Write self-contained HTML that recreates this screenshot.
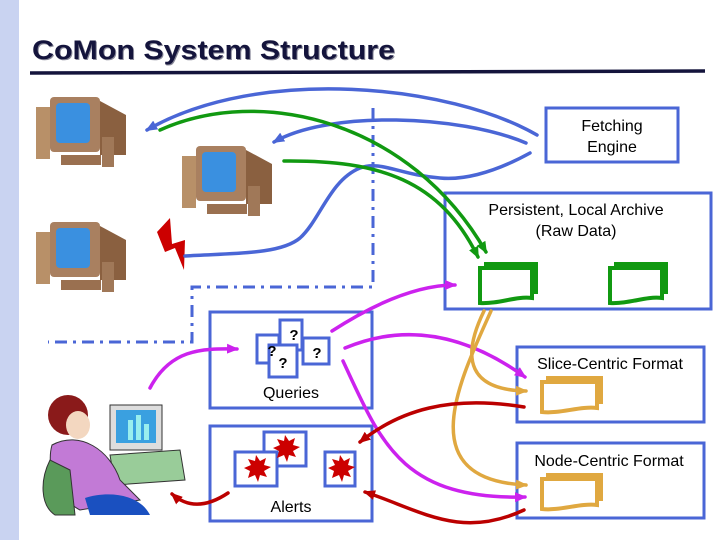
<!DOCTYPE html>
<html><head><meta charset="utf-8"><style>
body{margin:0;background:#fff}
svg{display:block}
text{font-family:"Liberation Sans",sans-serif}
</style></head><body>
<svg width="720" height="540" viewBox="0 0 720 540" xmlns="http://www.w3.org/2000/svg">
<defs>
<marker id="ab" markerWidth="12" markerHeight="10" refX="10" refY="5" orient="auto" markerUnits="userSpaceOnUse"><path d="M0,0L12,5L0,10z" fill="#4a66d6"/></marker>
<marker id="ag" markerWidth="12" markerHeight="10" refX="10" refY="5" orient="auto" markerUnits="userSpaceOnUse"><path d="M0,0L12,5L0,10z" fill="#119911"/></marker>
<marker id="am" markerWidth="12" markerHeight="10" refX="10" refY="5" orient="auto" markerUnits="userSpaceOnUse"><path d="M0,0L12,5L0,10z" fill="#cc22ee"/></marker>
<marker id="ao" markerWidth="12" markerHeight="10" refX="10" refY="5" orient="auto" markerUnits="userSpaceOnUse"><path d="M0,0L12,5L0,10z" fill="#e0a840"/></marker>
<marker id="ar" markerWidth="12" markerHeight="10" refX="10" refY="5" orient="auto" markerUnits="userSpaceOnUse"><path d="M0,0L12,5L0,10z" fill="#bb0000"/></marker>
<g id="pc">
<rect x="0" y="10" width="14" height="52" fill="#b89068"/>
<rect x="14" y="0" width="50" height="55" rx="4" fill="#a98060"/>
<rect x="20" y="6" width="34" height="40" rx="4" fill="#3a90e0"/>
<path d="M64,4 L90,18 L90,58 L64,58z" fill="#8a6040"/>
<rect x="25" y="58" width="40" height="10" fill="#9a7050"/>
<rect x="66" y="40" width="12" height="30" fill="#a07858"/>
</g>
</defs>
<rect x="0" y="0" width="19" height="540" fill="#c9d3f1"/>
<text x="33" y="60" font-size="27" font-weight="bold" fill="#8a8a9a" textLength="363" lengthAdjust="spacingAndGlyphs" font-family="DejaVu Sans Condensed,DejaVu Sans,sans-serif">CoMon System Structure</text>
<text x="32" y="59" font-size="27" font-weight="bold" fill="#14143c" textLength="363" lengthAdjust="spacingAndGlyphs" font-family="DejaVu Sans Condensed,DejaVu Sans,sans-serif">CoMon System Structure</text>
<path d="M30,73 L705,71" stroke="#14143c" stroke-width="3.5"/>

<use href="#pc" x="36" y="97"/>
<use href="#pc" x="182" y="146"/>
<use href="#pc" x="36" y="222"/>
<path d="M157,232 L170,218 L172,244 L185,240 L184,270 L175,248 L165,252z" fill="#cc0000"/>

<path d="M373,108 V287 H192 V342 H48" fill="none" stroke="#4a66d6" stroke-width="3" stroke-dasharray="12,6,3,6"/>

<g fill="none" stroke="#4a66d6" stroke-width="3">
<rect x="546" y="108" width="132" height="54"/>
<rect x="445" y="193" width="266" height="116"/>
<rect x="210" y="312" width="162" height="96"/>
<rect x="210" y="426" width="162" height="95"/>
<rect x="517" y="347" width="187" height="75"/>
<rect x="517" y="443" width="187" height="75"/>
</g>
<g font-size="16" fill="#000" text-anchor="middle">
<text x="612" y="131">Fetching</text><text x="612" y="152">Engine</text>
<text x="576" y="215">Persistent, Local Archive</text><text x="576" y="236">(Raw Data)</text>
<text x="291" y="398">Queries</text>
<text x="291" y="512">Alerts</text>
<text x="610" y="369">Slice-Centric Format</text>
<text x="609" y="466">Node-Centric Format</text>
</g>
<g fill="none" stroke="#119911" stroke-width="4">
<path d="M480,268 H532 V298 C515,296 500,304 480,303z"/><path d="M484,264 H536 V294"/>
<path d="M610,268 H662 V298 C645,296 630,304 610,303z"/><path d="M614,264 H666 V294"/>
</g>
<g fill="none" stroke="#e0a840" stroke-width="4">
<path d="M542,382 H597 V408 C580,406 560,414 542,412z"/><path d="M546,378 H601 V404"/>
<path d="M542,479 H597 V505 C580,503 560,511 542,509z"/><path d="M546,475 H601 V501"/>
</g>
<g fill="#fff" stroke="#4a66d6" stroke-width="3">
<rect x="257" y="335" width="22" height="28"/>
<rect x="280" y="320" width="22" height="30"/>
<rect x="303" y="338" width="26" height="26"/>
<rect x="269" y="345" width="28" height="32"/>
</g>
<g font-size="15" font-weight="bold" text-anchor="middle"><text x="294" y="340">?</text><text x="317" y="358">?</text><text x="283" y="368">?</text><text x="272" y="356">?</text></g>
<g fill="#fff" stroke="#4a66d6" stroke-width="3">
<rect x="264" y="432" width="42" height="34"/>
<rect x="235" y="452" width="42" height="34"/>
<rect x="325" y="452" width="30" height="34"/>
</g>
<g fill="#cc0000">
<path d="M285,435 l4,6 6,-3 -2,7 7,2 -7,4 3,6 -7,-2 -2,7 -3,-7 -7,3 2,-7 -6,-3 7,-3 -3,-6 7,2z"/>
<path d="M256,455 l4,6 6,-3 -2,7 7,2 -7,4 3,6 -7,-2 -2,7 -3,-7 -7,3 2,-7 -6,-3 7,-3 -3,-6 7,2z"/>
<path d="M340,455 l4,6 6,-3 -2,7 7,2 -7,4 3,6 -7,-2 -2,7 -3,-7 -7,3 2,-7 -6,-3 7,-3 -3,-6 7,2z"/>
</g>
<g>
<rect x="110" y="405" width="52" height="45" fill="#ddd" stroke="#333"/>
<rect x="116" y="410" width="40" height="33" fill="#3aa0e0"/>
<rect x="128" y="420" width="5" height="20" fill="#9ee"/><rect x="136" y="415" width="5" height="25" fill="#9ee"/><rect x="144" y="424" width="5" height="16" fill="#9ee"/>
<path d="M110,455 L180,450 L185,480 L115,485z" fill="#9c9" stroke="#333"/>
<circle cx="68" cy="415" r="20" fill="#8a1a1a"/>
<ellipse cx="78" cy="425" rx="12" ry="14" fill="#f3d7c0"/>
<path d="M52,445 C80,430 110,450 120,480 L140,500 L80,510 C60,500 45,470 52,445z" fill="#c27ad6" stroke="#333"/>
<path d="M50,460 C40,480 40,505 55,515 L75,515 L70,470z" fill="#5a9a5a" stroke="#333"/>
<path d="M85,498 C110,490 140,495 150,515 L90,515z" fill="#1a50c0"/>
</g>
<g fill="none" stroke-width="3.5" stroke-linecap="round">
<path d="M537,135 C450,85 260,65 147,130" stroke="#4a66d6" marker-end="url(#ab)"/>
<path d="M526,143 C460,115 330,110 274,142" stroke="#4a66d6" marker-end="url(#ab)"/>
<path d="M530,153 C490,175 460,180 440,178 C400,175 380,160 360,168 C330,180 320,220 300,238 C280,255 230,253 185,256" stroke="#4a66d6"/>
<path d="M160,130 C260,85 410,120 486,252" stroke="#119911" marker-end="url(#ag)"/>
<path d="M284,161 C380,160 440,180 478,257" stroke="#119911" marker-end="url(#ag)"/>
<path d="M150,388 C170,350 200,348 237,349" stroke="#cc22ee" marker-end="url(#am)"/>
<path d="M332,331 C380,300 420,285 455,285" stroke="#cc22ee" marker-end="url(#am)"/>
<path d="M345,348 C400,325 460,330 525,377" stroke="#cc22ee" marker-end="url(#am)"/>
<path d="M343,361 C380,440 400,500 525,497" stroke="#cc22ee" marker-end="url(#am)"/>
<path d="M484,311 C460,360 470,390 526,391" stroke="#e0a840" marker-end="url(#ao)"/>
<path d="M491,311 C460,380 410,480 526,485" stroke="#e0a840" marker-end="url(#ao)"/>
<path d="M524,407 C450,395 400,410 360,442" stroke="#bb0000" marker-end="url(#ar)"/>
<path d="M524,510 C460,540 420,510 365,492" stroke="#bb0000" marker-end="url(#ar)"/>
<path d="M228,493 C210,505 190,510 172,494" stroke="#bb0000" marker-end="url(#ar)"/>
</g>
</svg>
</body></html>
